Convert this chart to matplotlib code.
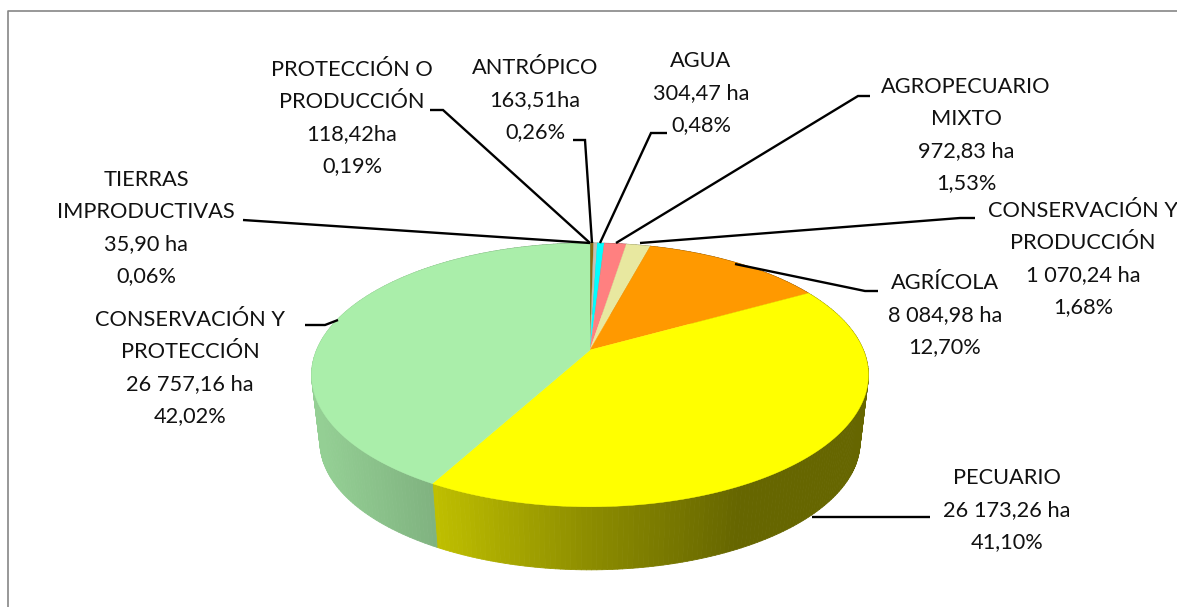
from __future__ import annotations

import matplotlib

matplotlib.use("Agg")
import matplotlib.pyplot as plt
import numpy as np
from matplotlib.collections import PolyCollection


# slices clockwise from 12 o'clock
PERCENTS = [0.06, 0.19, 0.26, 0.48, 1.53, 1.68, 12.70, 41.10, 42.02]
COLORS = [
    "#5a5a20",
    "#8a6a10",
    "#c4c0b4",
    "#00ffff",
    "#ff8080",
    "#e8e8a0",
    "#ff9900",
    "#ffff00",
    "#aaeeaa",
]

LABELS = [
    "TIERRAS\nIMPRODUCTIVAS\n35,90 ha\n0,06%",
    "PROTECCIÓN O\nPRODUCCIÓN\n118,42ha\n0,19%",
    "ANTRÓPICO\n163,51ha\n0,26%",
    "AGUA\n304,47 ha\n0,48%",
    "AGROPECUARIO\nMIXTO\n972,83 ha\n1,53%",
    "CONSERVACIÓN Y\nPRODUCCIÓN\n1 070,24 ha\n1,68%",
    "AGRÍCOLA\n8 084,98 ha\n12,70%",
    "PECUARIO\n26 173,26 ha\n41,10%",
    "CONSERVACIÓN Y\nPROTECCIÓN\n26 757,16 ha\n42,02%",
]
LABEL_X = [146, 352, 535, 701, 966, 1083, 945, 1007, 190]
LABEL_Y = [228, 118, 100, 93, 135, 259, 315, 510, 368]

LEADER_X = [
    [243, 590],
    [430, 443, 590],
    [573, 585, 592],
    [667, 651, 600],
    [870, 858, 616],
    [975, 960, 640],
    [878, 865, 735],
    [930, 812],
    [305, 325, 338],
]
LEADER_Y = [
    [220, 243],
    [110, 110, 243],
    [140, 140, 243],
    [133, 133, 243],
    [96, 96, 243],
    [218, 218, 243],
    [291, 291, 264],
    [517, 517],
    [325, 325, 320],
]

# pie geometry in pixels, perspective tilt of the top face
CX = 590
R = 273.4
CY_PIE = 350
TILT_A = -61
TILT_C = 0.189
ELL_CY = 375
BASE_SCALE = 0.97
BASE_CY = 442


def top_rim(t: np.ndarray) -> tuple[np.ndarray, np.ndarray]:
    u, v = np.sin(t), np.cos(t)
    d = 1 + TILT_C * v
    return CX + R * u / d, (TILT_A * v + CY_PIE) / d


def base_rim(t: np.ndarray) -> tuple[np.ndarray, np.ndarray]:
    x, y = top_rim(t)
    return CX + (x - CX) * BASE_SCALE, BASE_CY + (y - ELL_CY) * BASE_SCALE


def shaded(color: str, x: float) -> tuple[float, float, float]:
    f = np.interp(x, [320, 433, 590, 740, 870], [0.87, 0.75, 0.55, 0.40, 0.40])
    r, g, b = matplotlib.colors.to_rgb(color)
    return r * f, g * f, b * f


def main() -> None:
    plt.rcParams["font.family"] = ["Lato", "DejaVu Sans"]
    fig = plt.figure(figsize=(11.77, 6.07), dpi=100)
    ax = fig.add_axes([0, 0, 1, 1])
    ax.set_xlim(0, 1177)
    ax.set_ylim(607, 0)
    ax.axis("off")

    # chart frame
    ax.plot([8, 8, 1177], [607, 11, 11], color="#868686", lw=1.2)

    edges = np.cumsum([0] + PERCENTS) / sum(PERCENTS) * 2 * np.pi

    # side wall, thin strips so the shading runs along x
    polys, cols = [], []
    for i, color in enumerate(COLORS):
        ts = np.linspace(edges[i], edges[i + 1], max(int(PERCENTS[i] * 4), 2))
        for t0, t1 in zip(ts[:-1], ts[1:]):
            pair = np.array([t0, t1])
            xt, yt = top_rim(pair)
            xb, yb = base_rim(pair)
            polys.append([(xt[0], yt[0]), (xt[1], yt[1]), (xb[1], yb[1]), (xb[0], yb[0])])
            cols.append(shaded(color, xt.mean()))
    ax.add_collection(PolyCollection(polys, facecolors=cols, edgecolors=cols, linewidths=0.6))

    # top face
    for i, color in enumerate(COLORS):
        ts = np.linspace(edges[i], edges[i + 1], max(int(PERCENTS[i] * 6), 3))
        x, y = top_rim(ts)
        ax.fill(np.r_[CX, x], np.r_[CY_PIE, y], color=color, lw=0.3)

    for lx, ly in zip(LEADER_X, LEADER_Y):
        ax.plot(lx, ly, color="black", lw=1.7, solid_joinstyle="miter", solid_capstyle="butt")

    for text, x, y in zip(LABELS, LABEL_X, LABEL_Y):
        ax.text(x, y, text, ha="center", va="center", fontsize=15.7, linespacing=1.74,
                color="#111111", clip_on=True)

    fig.savefig("out.png", dpi=100, facecolor="white")
    plt.close(fig)


if __name__ == "__main__":
    main()
